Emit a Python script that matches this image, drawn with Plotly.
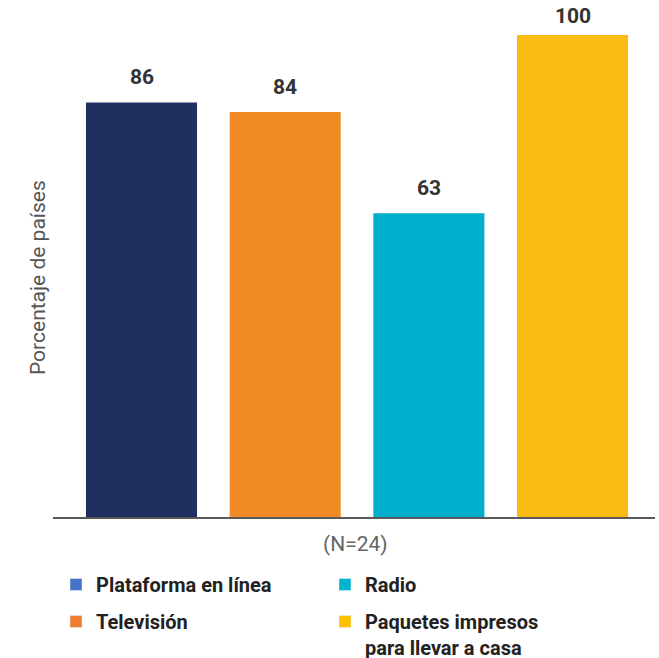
import plotly.graph_objects as go

categories = ["Plataforma en línea", "Televisión", "Radio", "Paquetes impresos<br>para llevar a casa"]
values = [86, 84, 63, 100]
bar_colors = ["#1F3060", "#F08A24", "#00AFCB", "#F9BC15"]
legend_colors = ["#4472C4", "#ED7D31", "#00B4CC", "#FFC000"]
legend_ids = ["legend", "legend", "legend2", "legend2"]
y_title = "Porcentaje de países"
n_label = "(N=24)"

FONT = "Roboto, 'Liberation Sans', sans-serif"

W, H = 659, 658
PX0, PX1 = 53, 655      # plot area, pixels
PY0, PY1 = 5, 517
YMAX = 106.2
XR = [-0.616, 3.574]


def fx(px):
    return px / W


def fy(py):
    return (H - py) / H


fig = go.Figure()
xs = list(range(len(categories)))
fig.add_trace(go.Bar(
    x=xs, y=values, marker=dict(color=bar_colors, line=dict(width=0)),
    showlegend=False, hoverinfo="skip",
))
for i, (name, col, lg) in enumerate(zip(categories, legend_colors, legend_ids)):
    fig.add_trace(go.Bar(
        x=[None], y=[None], name=name, marker=dict(color=col),
        legend=lg, legendgroup=f"g{i}", showlegend=True,
    ))

plot_h = PY1 - PY0
px_per_unit = plot_h / YMAX
annotations = []
for x, v in zip(xs, values):
    top_px = PY0 + (YMAX - v) * px_per_unit
    shift = min(25, top_px - 16)
    annotations.append(dict(
        x=x, y=v, xref="x", yref="y", text=f"<b>{v}</b>", showarrow=False,
        yanchor="middle", yshift=shift,
        font=dict(family=FONT, size=21, color="#333333"),
    ))
annotations.append(dict(
    x=fx(38), y=fy(278), xref="paper", yref="paper",
    text=y_title, textangle=-90, showarrow=False, xanchor="center", yanchor="middle",
    font=dict(family=FONT, size=21, color="#555555"),
))
annotations.append(dict(
    x=fx(355), y=fy(544), xref="paper", yref="paper",
    text=n_label, showarrow=False, xanchor="center", yanchor="middle",
    font=dict(family=FONT, size=21, color="#666666"),
))

leg_font = dict(family=FONT, size=20, color="#222222", weight="bold")
leg_common = dict(xanchor="left", yanchor="top", orientation="v", font=leg_font,
                  tracegroupgap=8, bgcolor="rgba(0,0,0,0)", valign="top",
                  itemclick=False, itemdoubleclick=False)
fig.update_layout(
    width=W, height=H,
    margin=dict(l=0, r=0, t=0, b=0, autoexpand=False),
    paper_bgcolor="white", plot_bgcolor="white",
    bargap=0.227,
    hovermode=False,
    xaxis=dict(domain=[fx(PX0), fx(PX1)], range=XR, showticklabels=False, ticks="",
               showgrid=False, zeroline=False,
               showline=True, linecolor="rgba(60,60,60,0.85)", linewidth=2, fixedrange=True),
    yaxis=dict(domain=[fy(PY1), fy(PY0)], range=[0, YMAX], showticklabels=False, ticks="",
               showgrid=False, zeroline=False, showline=False, fixedrange=True),
    annotations=annotations,
    legend=dict(x=fx(56), y=fy(565), **leg_common),
    legend2=dict(x=fx(325), y=fy(565), **leg_common),
)

fig.write_html("out.html", config={"displayModeBar": False},
               post_script="document.body.style.margin='0';")
